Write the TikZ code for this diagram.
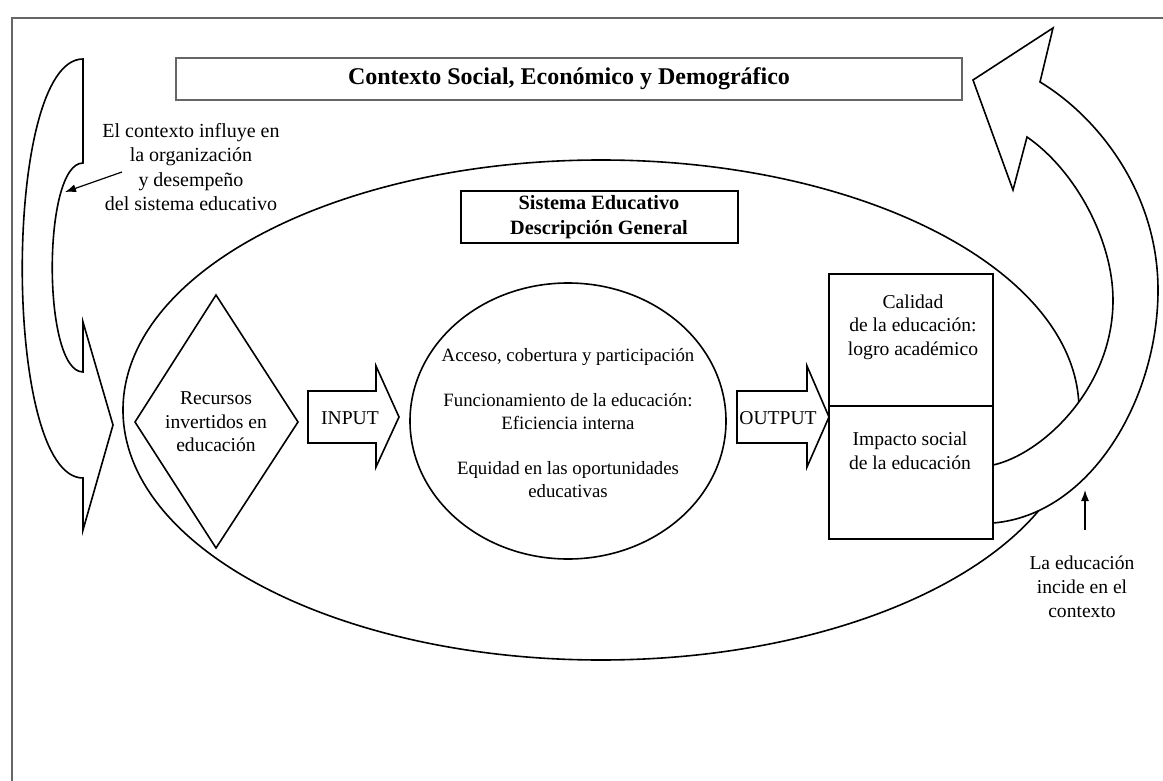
\documentclass[tikz,border=0pt]{standalone}
\usepackage{fontspec}
\setmainfont{Liberation Serif}
\usepackage{tikz}
\usetikzlibrary{arrows.meta}
\usetikzlibrary{positioning}
\definecolor{frame}{rgb}{0.4,0.4,0.4}

\begin{document}
\begin{tikzpicture}[x=1pt, y=-1pt,
  every node/.style={font=\fontsize{19.6}{23.5}\selectfont, align=center, inner sep=0pt},
  shapeline/.style={line width=1.6pt, fill=white},
  boxline/.style={draw, line width=2pt, fill=white},
  pointer/.style={-{Latex[length=11pt,width=8pt]}, line width=1.2pt}]

\useasboundingbox (0,0) rectangle (1163,781);

% frame
\draw[line width=2.6pt, color=frame] (12,781) -- (12,18) -- (1163,18);

% Context
\node[boxline, draw=frame, minimum width=786pt, minimum height=42pt, font=\fontsize{24}{29}\selectfont\bfseries] (contexto) at (569,79) {Contexto Social, Económico y Demográfico};

  % left curved arrow
  \draw[shapeline] (83,59) -- (83,163) .. controls (42,163) and (42,372) .. (83,372) -- (83,322) -- (113,425) -- (83,530) -- (83,478) .. controls (2,478) and (2,59) .. (83,59) -- cycle;

  \node[font=\fontsize{20}{24.3}\selectfont] (influye) at (191,167) {El contexto influye en\\la organización\\y desempeño\\del sistema educativo};
  \coordinate (influyeTail) at (122,172);
  \coordinate (influyeTip) at (65,192);
  \draw[pointer] (influyeTail) -- (influyeTip);

% Educational system
\draw[line width=1.6pt] (601,410) ellipse [x radius=478, y radius=250];

\node[boxline, minimum width=277pt, minimum height=52pt, font=\fontsize{20.3}{25}\selectfont\bfseries] (sistema) at (599,217) {Sistema Educativo\\Descripción General};

  % resources
  \draw[line width=1.6pt] (216,295) -- (298,422) -- (216,548) -- (135,422) -- cycle;
  \node (recursos) at (216,422) {Recursos\\invertidos en\\educación};

  % input
  \draw[shapeline] (308,391) -- (376,391) -- (376,366) -- (399,417) -- (376,467) -- (376,443) -- (308,443) -- cycle;
  \node (input) at (350,418) {INPUT};

  % processes
  \draw[line width=1.6pt] (568,421) ellipse [x radius=158, y radius=138];
  \node[font=\fontsize{18.8}{23}\selectfont] (procesos) at (568,423) {Acceso, cobertura y participación\\[22pt]Funcionamiento de la educación:\\Eficiencia interna\\[22pt]Equidad en las oportunidades\\educativas};

  % output
  \draw[shapeline] (737,391) -- (807,391) -- (807,366) -- (829,417) -- (807,467) -- (807,443) -- (737,443) -- cycle;
  \node (output) at (778,418) {OUTPUT};

% right curved arrow
\draw[shapeline] (993,523) .. controls (1090,515) and (1158,400) .. (1158,290) .. controls (1158,190) and (1095,115) .. (1040,82) -- (1053,28) -- (973,80) -- (1013,190) -- (1027,137) .. controls (1075,170) and (1113,240) .. (1113,300) .. controls (1113,390) and (1040,455) .. (993,465) -- cycle;

  % results
  \draw[line width=2pt, fill=white] (829,274) rectangle (993,539);
  \draw[line width=1.6pt] (829,406) -- (993,406);
  \node (calidad) at (913,327) {Calidad\\de la educación:\\logro académico};
  \node (impacto) at (910,451) {Impacto social\\de la educación};

  \node[font=\fontsize{19.6}{24}\selectfont] (incide) at (1082,587) {La educación\\incide en el\\contexto};
  \coordinate (incideTail) at (1085,530);
  \coordinate (incideTip) at (1085,490);
  \draw[pointer] (incideTail) -- (incideTip);

\end{tikzpicture}
\end{document}
